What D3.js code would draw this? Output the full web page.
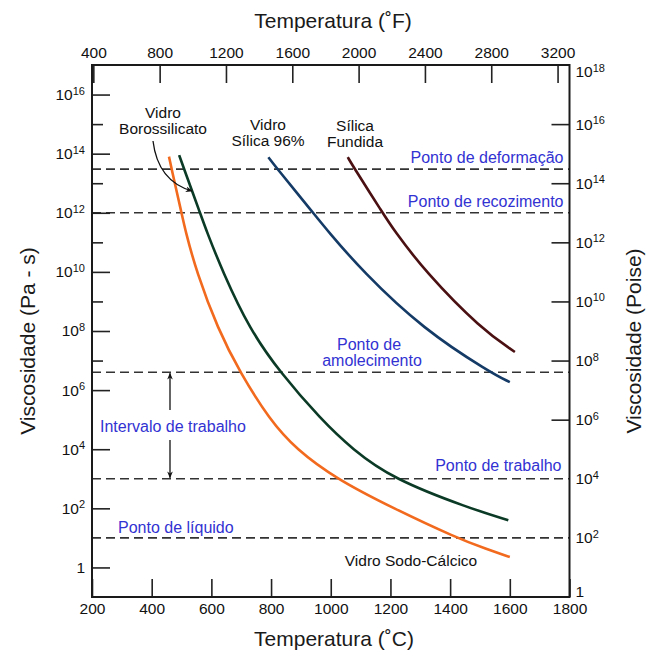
<!DOCTYPE html>
<html><head><meta charset="utf-8">
<script src="https://cdn.jsdelivr.net/npm/d3@7"></script>
<style>body{margin:0;background:#fff}svg{display:block}</style>
</head><body>
<svg id="c" width="647" height="651"></svg>
<script>
// ---- data ----
const tempTicksC = [200,400,600,800,1000,1200,1400,1600,1800];
const tempTicksF = [400,800,1200,1600,2000,2400,2800,3200];
const leftMajorExp = [0,2,4,6,8,10,12,14,16];
const leftMinorExp = [7,9,11,13,15];
const rightLabelExp = [0,2,4,6,8,10,12,14,16,18];
const rightTickExp = [6,8,10,12,14,16];

const curveNames = ["Vidro Sodo-Cálcico","Vidro Borossilicato","Vidro Sílica 96%","Sílica Fundida"];
const curveColors = ["#f26a1e","#0b3b26","#143a66","#4a1012"];
// temperatures (°C) and log10 viscosity (Pa·s)
const sodaT   = [458,467,500,512,550,622,696,795,884,1018,1210,1422,1522,1600];
const sodaLog = [13.9,13.47,12.0,11.43,10.0,8.06,6.6,5.0,4.0,3.0,2.0,1.0,0.62,0.35];
const boroT   = [492,509,562,582,638,728,830,968,1072,1207,1465,1595];
const boroLog = [13.95,13.47,12.0,11.43,10.0,8.06,6.6,5.0,4.0,3.0,2.0,1.6];
const sil96T   = [791,822,941,986,1108,1310,1534,1600];
const sil96Log = [13.88,13.47,12.0,11.43,10.0,8.06,6.6,6.27];
const fusedT   = [1057,1081,1174,1210,1317,1505,1617];
const fusedLog = [13.88,13.47,12.0,11.43,10.0,8.06,7.29];

const refNames = ["Ponto de deformação","Ponto de recozimento","Ponto de amolecimento","Ponto de trabalho","Ponto de líquido"];
const refValues = [3e13,1e12,4e6,1e3,1e1];

// ---- setup ----
const FONT = "'Liberation Sans', Arial, Helvetica, sans-serif";
const BLUE = "#3232d2";
const svg = d3.select("#c").attr("font-family", FONT);
const m = {l:92, r:569.5, t:65, b:597};
const x = d3.scaleLinear().domain([200,1800]).range([m.l,m.r]);
const xF = d3.scaleLinear().domain([200*1.8+32,1800*1.8+32]).range([m.l,m.r]);
const y = d3.scaleLog().domain([0.1,1e17]).range([m.b,m.t]);
const yP = d3.scaleLog().domain([1,1e18]).range([m.b,m.t]);

const defs = svg.append("defs");
defs.append("marker").attr("id","ah").attr("viewBox","0 0 10 10").attr("refX",9).attr("refY",5)
  .attr("markerWidth",7).attr("markerHeight",7).attr("orient","auto-start-reverse").attr("markerUnits","userSpaceOnUse")
  .append("path").attr("d","M0,1 L10,5 L0,9 L3,5 Z").attr("fill","#111");

function sup(g){
  g.selectAll(".tick text").each(function(d){
    const e = Math.round(Math.log10(d));
    const t = d3.select(this); t.text(null);
    if(e===0){ t.text("1"); return; }
    t.append("tspan").text("10");
    t.append("tspan").attr("dy","-0.5em").attr("font-size","11px").text(e);
  });
}
function styleAxis(g){
  g.select(".domain").remove();
  g.selectAll(".tick line").attr("stroke","#222").attr("stroke-width",1.6);
  g.selectAll(".tick text").attr("fill","#111").attr("font-size","15.5px").attr("font-family",FONT);
}

// reference dashed lines
svg.append("g").selectAll("line").data(refValues).join("line")
  .attr("x1",m.l).attr("x2",m.r).attr("y1",d=>y(d)).attr("y2",d=>y(d))
  .attr("stroke","#333").attr("stroke-width",1.6).attr("stroke-dasharray","9,5");

// axes
const gB = svg.append("g").attr("transform",`translate(0,${m.b})`)
  .call(d3.axisBottom(x).tickValues(tempTicksC).tickSize(-18).tickPadding(6).tickFormat(d3.format("d")));
styleAxis(gB);
const gT = svg.append("g").attr("transform",`translate(0,${m.t})`)
  .call(d3.axisTop(xF).tickValues(tempTicksF).tickSize(-18).tickPadding(7).tickFormat(d3.format("d")));
styleAxis(gT);
const gL = svg.append("g").attr("transform",`translate(${m.l},0)`)
  .call(d3.axisLeft(y).tickValues(leftMajorExp.map(e=>10**e)).tickSize(-18).tickPadding(7));
styleAxis(gL); sup(gL);
const gLm = svg.append("g").attr("transform",`translate(${m.l},0)`)
  .call(d3.axisLeft(y).tickValues(leftMinorExp.map(e=>10**e)).tickSize(-11).tickFormat(""));
styleAxis(gLm);
const gRt = svg.append("g").attr("transform",`translate(${m.r},0)`)
  .call(d3.axisRight(yP).tickValues(rightTickExp.map(e=>10**e)).tickSize(-18).tickFormat(""));
styleAxis(gRt);
const gR = svg.append("g").attr("transform",`translate(${m.r},0)`)
  .call(d3.axisRight(yP).tickValues(rightLabelExp.map(e=>10**e)).tickSize(0).tickPadding(6));
styleAxis(gR); sup(gR);
gR.selectAll(".tick").filter(d=>d===1e18).select("text").attr("y",7);
gR.selectAll(".tick").filter(d=>d===1).select("text").attr("y",-5);

// frame
svg.append("rect").attr("x",m.l).attr("y",m.t).attr("width",m.r-m.l).attr("height",m.b-m.t)
  .attr("fill","none").attr("stroke","#1a1a1a").attr("stroke-width",2);

// curves
const series = [[sodaT,sodaLog],[boroT,boroLog],[sil96T,sil96Log],[fusedT,fusedLog]];
const line = d3.line().x(d=>x(d[0])).y(d=>y(Math.pow(10,d[1]))).curve(d3.curveBasis);
svg.append("g").selectAll("path").data(series).join("path")
  .attr("d",s=>line(s[0].map((t,i)=>[t,s[1][i]])))
  .attr("fill","none").attr("stroke",(s,i)=>curveColors[i]).attr("stroke-width",2.6);

// titles
svg.append("text").attr("x",333).attr("y",28).attr("text-anchor","middle").attr("font-size","21px").attr("fill","#1a1a1a").text("Temperatura (˚F)");
svg.append("text").attr("x",334).attr("y",646).attr("text-anchor","middle").attr("font-size","21px").attr("fill","#1a1a1a").text("Temperatura (˚C)");
svg.append("text").attr("transform","translate(35,341) rotate(-90)").attr("text-anchor","middle").attr("font-size","21px").attr("fill","#1a1a1a").text("Viscosidade (Pa - s)");
svg.append("text").attr("transform","translate(641,341) rotate(-90)").attr("text-anchor","middle").attr("font-size","21px").attr("fill","#1a1a1a").text("Viscosidade (Poise)");

// curve labels
function label2(cx, y1, l1, l2){
  const t = svg.append("text").attr("text-anchor","middle").attr("font-size","15.5px").attr("fill","#111");
  t.append("tspan").attr("x",cx).attr("y",y1).text(l1);
  t.append("tspan").attr("x",cx).attr("y",y1+16).text(l2);
}
label2(163,118,"Vidro","Borossilicato");
label2(268,130,"Vidro","Sílica 96%");
label2(355,131,"Sílica","Fundida");
svg.append("text").attr("x",411).attr("y",566).attr("text-anchor","middle").attr("font-size","15.5px").attr("fill","#111").text(curveNames[0]);

// borosilicate pointer
svg.append("path").attr("d","M153,141 C156,166 168,184 192,191").attr("fill","none").attr("stroke","#111").attr("stroke-width",1.3).attr("marker-end","url(#ah)");

// blue labels
const bl = (txt,xx,yy,anchor)=>svg.append("text").attr("x",xx).attr("y",yy).attr("text-anchor",anchor).attr("font-size","16px").attr("fill",BLUE).text(txt);
bl(refNames[0], m.r-6, y(refValues[0])-6, "end");
bl(refNames[1], m.r-6, y(refValues[1])-6, "end");
bl("Ponto de", 369, y(refValues[2])-22, "middle");
bl("amolecimento", 372, y(refValues[2])-6, "middle");
bl(refNames[3], m.r-8, y(refValues[3])-8, "end");
bl(refNames[4], 118, y(refValues[4])-5, "start");
bl("Intervalo de trabalho", 100, 432, "start");

// working range arrow
svg.append("line").attr("x1",170).attr("x2",170).attr("y1",410).attr("y2",y(refValues[2])+1)
  .attr("stroke","#111").attr("stroke-width",1.3).attr("marker-end","url(#ah)");
svg.append("line").attr("x1",170).attr("x2",170).attr("y1",440).attr("y2",y(refValues[3])-1)
  .attr("stroke","#111").attr("stroke-width",1.3).attr("marker-end","url(#ah)");
</script>
</body></html>
